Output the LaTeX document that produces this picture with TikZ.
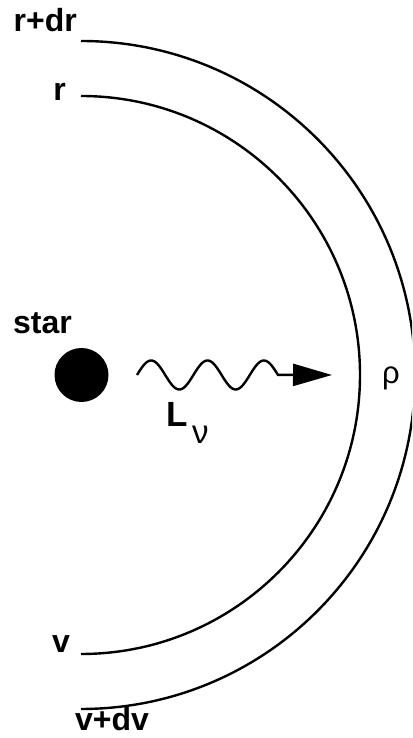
\documentclass[tikz,border=0pt]{standalone}
\usepackage{fontspec}
\setmainfont{Liberation Sans}
\usepackage{tikz}
\usetikzlibrary{arrows.meta}

\begin{document}
\begin{tikzpicture}[x=1pt,y=1pt,line width=2.4pt,
lbl/.style={font=\fontsize{32}{32}\selectfont\bfseries,inner sep=0pt},
grk/.style={font=\fontsize{31}{31}\selectfont,inner sep=0pt}]
\useasboundingbox(0,0)rectangle(412,738);
\clip(0,0)rectangle(412,738);
% shells
\draw(81,642)arc[start angle=90,end angle=-90,radius=279pt];
\draw(81,697)arc[start angle=90,end angle=-90,radius=334pt];
\node[lbl,anchor=base east](rdr)at(78,706){r+dr};
\node[lbl,anchor=base east](r)at(67,637){r};
\node[lbl,anchor=base east](v)at(71,85){v};
\node[lbl,anchor=base west](vdv)at(74,7){v+dv};
\node[grk,anchor=base](rho)at(391,354){ρ};
% star and photons
\node[circle,fill,minimum size=54pt,inner sep=0pt](star)at(81.5,363){};
\node[lbl,anchor=base east](starlbl)at(73,404){star};
\coordinate(wave)at(137,363);
\coordinate(tip)at(332,363);
\draw[line width=2.4pt,-{Triangle[length=39pt,width=22pt]},shift={(wave)}]
plot[domain=0:2.5,samples=120]({56.4*\x},{14.5*sin(360*\x)})--(tip);
\node[lbl,font=\fontsize{35}{35}\selectfont\bfseries,anchor=base west](L)at(165,311){L};
\node[grk,font=\fontsize{33}{33}\selectfont,anchor=base west](nu)at(191,294){ν};
\end{tikzpicture}
\end{document}
